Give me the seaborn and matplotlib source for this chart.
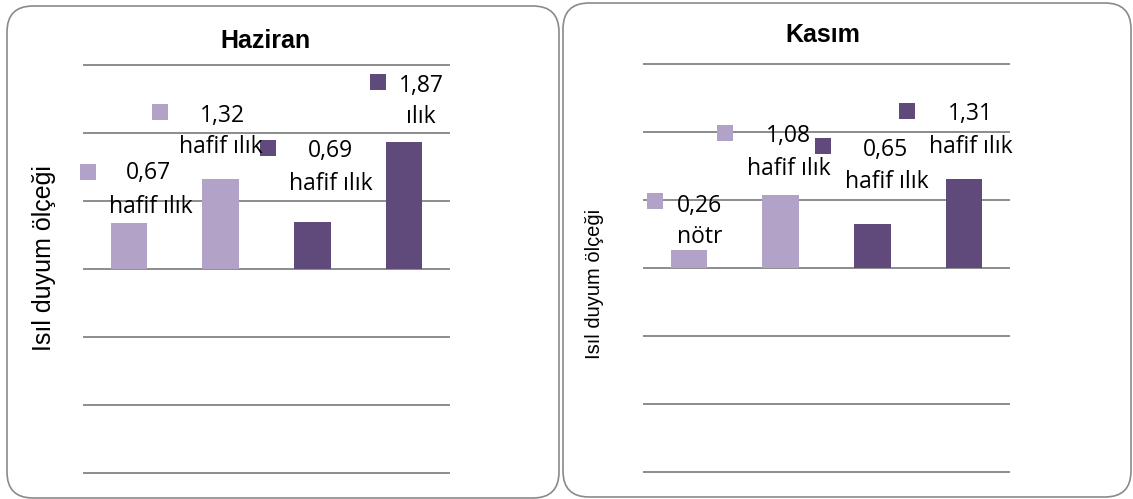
import matplotlib
matplotlib.use("Agg")
import matplotlib.pyplot as plt
from matplotlib.patches import FancyBboxPatch
from matplotlib.transforms import IdentityTransform, offset_copy
import seaborn as sns
import pandas as pd

# ---- data -------------------------------------------------------------
months = ["Haziran", "Kasım"]
groups = ["G1", "G2", "G3", "G4"]
haziran_values = [0.67, 1.32, 0.69, 1.87]
kasim_values = [0.26, 1.08, 0.65, 1.31]
haziran_classes = ["hafif ılık", "hafif ılık", "hafif ılık", "ılık"]
kasim_classes = ["nötr", "hafif ılık", "hafif ılık", "hafif ılık"]
y_label = "Isıl duyum ölçeği"

# ---- styling ----------------------------------------------------------
bar_colors = ["#B3A2C7", "#B3A2C7", "#604A7B", "#604A7B"]
grid_color = "#8C8C8C"
W, H, DPI = 1133, 499, 100

# data-label layout: (marker dx, dy), (value dx, baseline dy), (class dx, baseline dy)
# offsets in pixels from the top of each bar
label_layout = {
    "Haziran": [
        ((-40.5, 51), (20, 44), (22, 10.7)),
        ((-60.8, 67), (2.2, 57.3), (0.2, 26.7)),
        ((-44.5, 74), (18, 64.7), (18.5, 32.3)),
        ((-26, 60), (17.7, 50.3), (16.7, 18.7)),
    ],
    "Kasım": [
        ((-33.5, 49.5), (10.4, 38.3), (10.7, 7.3)),
        ((-55.2, 61.7), (8, 52.3), (8, 20)),
        ((-49.8, 77.3), (13.5, 67.3), (14.2, 35.7)),
        ((-57, 67.5), (6.7, 59), (6.8, 26.3)),
    ],
}

sns.set_theme(style="white")
plt.rcParams["font.family"] = ["Liberation Sans", "DejaVu Sans"]

fig = plt.figure(figsize=(W / DPI, H / DPI), dpi=DPI)

# rounded panel frames (pixel coordinates, origin bottom-left)
frames = [(7, 1, 552, 492), (563, 2, 568, 494)]
for (x0, y0, w, h) in frames:
    fig.patches.append(FancyBboxPatch(
        (x0, y0), w, h, boxstyle="round,pad=0,rounding_size=26",
        transform=IdentityTransform(), facecolor="none",
        edgecolor="#8A8A8A", linewidth=1.2, zorder=0))

# axes rectangles in pixels: left, right, top, bottom (top-down)
axes_px = [(83, 450, 64, 474), (643, 1010, 63, 473)]
panels = [
    (months[0], haziran_values, haziran_classes),
    (months[1], kasim_values, kasim_classes),
]
title_pos = [(265.5, 41), (823, 35.5)]
ylabel_pos = [(44, 258, 18), (594, 284, 14.5)]

for (l, r, t, b), (month, vals, classes), (tx, ty), (yx, yy, ys) in zip(
        axes_px, panels, title_pos, ylabel_pos):
    ax = fig.add_axes([l / W, 1 - b / H, (r - l) / W, (b - t) / H])
    ax.set_zorder(2)
    df = pd.DataFrame({"grup": groups, "deger": vals})
    sns.barplot(data=df, x="grup", y="deger", hue="grup",
                palette=bar_colors, legend=False, width=0.4,
                saturation=1, edgecolor="none", linewidth=0,
                ax=ax, zorder=3)
    ax.set_xlim(-0.5, 3.5)
    pad = 1 / 68
    ax.set_ylim(-3 - pad, 3 + pad)
    ax.set_yticks(range(-3, 4))
    ax.yaxis.grid(True, color=grid_color, linewidth=1.4)
    ax.set_axisbelow(True)
    ax.set_xticks([])
    ax.set_yticklabels([])
    ax.tick_params(left=False, bottom=False)
    ax.set_xlabel("")
    ax.set_ylabel("")
    for s in ax.spines.values():
        s.set_visible(False)
    ax.patch.set_alpha(0)

    for i, (v, cls) in enumerate(zip(vals, classes)):
        (mdx, mdy), (vdx, vdy), (cdx, cdy) = label_layout[month][i]
        mt = offset_copy(ax.transData, fig=fig, x=mdx, y=mdy, units="dots")
        ax.plot([i], [v], marker="s", markersize=11, markeredgewidth=0,
                color=bar_colors[i], transform=mt, clip_on=False, zorder=5)
        ax.annotate(f"{v:.2f}".replace(".", ","), xy=(i, v), xytext=(vdx, vdy),
                    textcoords="offset pixels", ha="center", va="baseline",
                    fontsize=16.5, family=["Open Sans", "DejaVu Sans"],
                    color="black", annotation_clip=False, zorder=6)
        ax.annotate(cls, xy=(i, v), xytext=(cdx, cdy),
                    textcoords="offset pixels", ha="center", va="baseline",
                    fontsize=16.5, family=["Open Sans", "DejaVu Sans"],
                    color="black", annotation_clip=False, zorder=6)

    fig.text(tx / W, 1 - ty / H, month, ha="center", va="center",
             fontsize=18, fontweight="bold", color="black")
    fig.text(yx / W, 1 - yy / H, y_label, ha="center", va="center",
             rotation=90, fontsize=ys, color="black")

fig.savefig("out.png", dpi=DPI)
